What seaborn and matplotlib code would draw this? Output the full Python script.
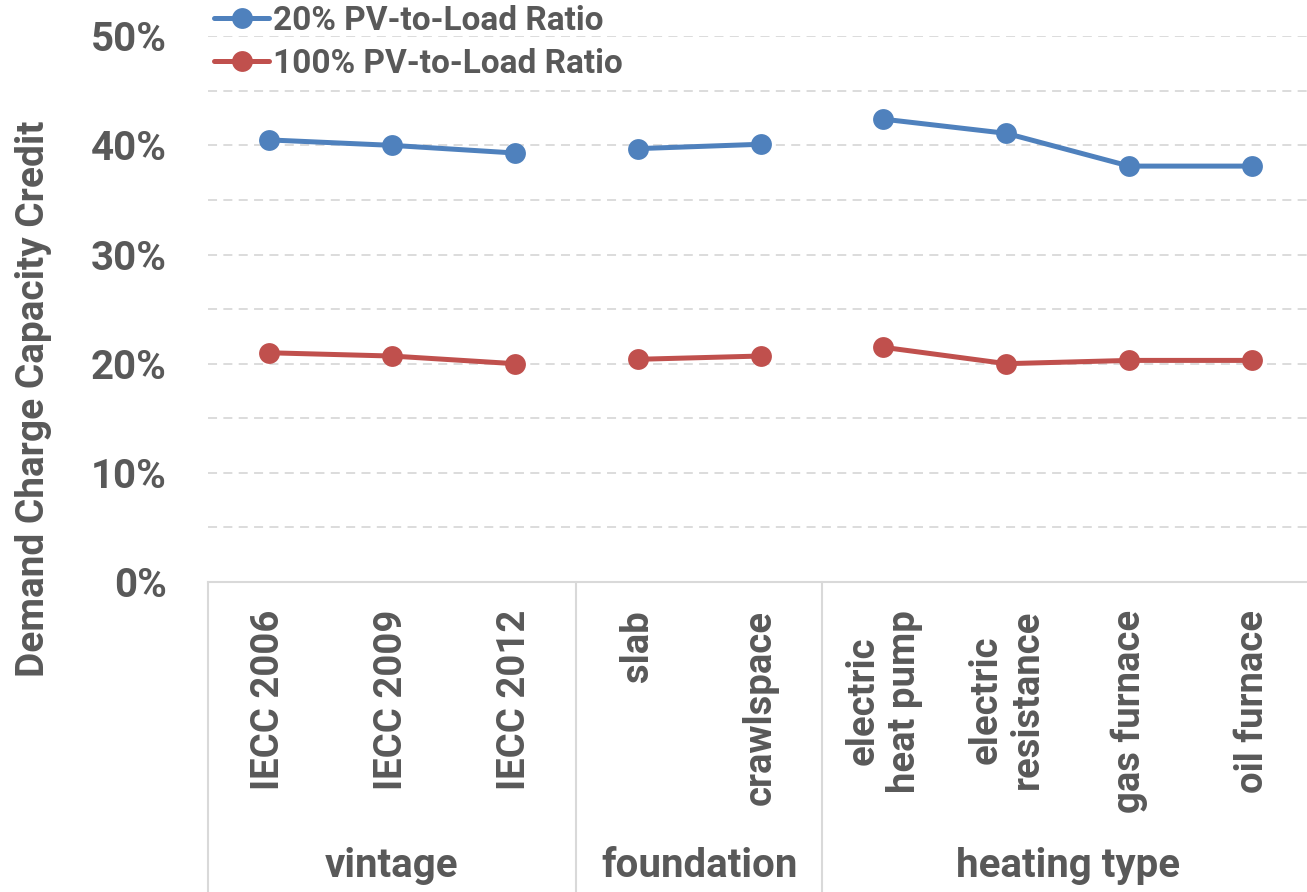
import matplotlib.pyplot as plt
import matplotlib.transforms as mtransforms
import pandas as pd
import seaborn as sns
from matplotlib.lines import Line2D
from matplotlib.ticker import MultipleLocator, PercentFormatter

categories = ["IECC 2006", "IECC 2009", "IECC 2012", "slab", "crawlspace",
              "electric\nheat pump", "electric\nresistance", "gas furnace", "oil furnace"]
groups = ["vintage"] * 3 + ["foundation"] * 2 + ["heating type"] * 4
group_names = ["vintage", "foundation", "heating type"]
pv_20 = [40.5, 40.0, 39.3, 39.7, 40.1, 42.4, 41.1, 38.1, 38.1]
pv_100 = [21.0, 20.7, 20.0, 20.4, 20.7, 21.5, 20.0, 20.3, 20.3]
series_names = ["20% PV-to-Load Ratio", "100% PV-to-Load Ratio"]
colors = ["#4F81BD", "#C0504D"]

rows = []
for name, vals in zip(series_names, [pv_20, pv_100]):
    for i, v in enumerate(vals):
        rows.append({"pos": i, "value": v, "series": name, "group": groups[i]})
df = pd.DataFrame(rows)

sns.set_style("white")
plt.rcParams["font.family"] = ["Roboto", "DejaVu Sans"]
plt.rcParams["font.weight"] = "bold"
text_color = "#595959"
grid_color = "#D9D9D9"

W, H = 1307, 892
fig = plt.figure(figsize=(W / 100, H / 100), dpi=100)
x0, x1, y0, y1 = 207.5, 1313.6, 36.2, 582.0
ax = fig.add_axes([x0 / W, 1 - y1 / H, (x1 - x0) / W, (y1 - y0) / H])

sns.lineplot(data=df, x="pos", y="value", hue="series", units="group",
             estimator=None, sort=False, palette=colors, marker="o",
             markersize=15, markeredgewidth=0, linewidth=3.6,
             legend=False, ax=ax, zorder=3)

ax.set_xlim(-0.5, 8.5)
ax.set_ylim(0, 50)
ax.yaxis.set_major_locator(MultipleLocator(10))
ax.yaxis.set_minor_locator(MultipleLocator(5))
ax.yaxis.set_major_formatter(PercentFormatter(decimals=0))
ax.grid(axis="y", which="both", color=grid_color, linestyle=(0, (5, 3.5)), linewidth=1.3)
ax.set_axisbelow(True)
ax.tick_params(axis="y", which="both", length=0, pad=29.5, labelsize=29, labelcolor=text_color)
ax.set_xlabel("")
ax.set_ylabel("")

ax.set_xticks(range(len(categories)))
ax.set_xticklabels(categories, rotation=90, va="top", ha="center",
                   multialignment="center", fontsize=27.5, color=text_color,
                   linespacing=1.15)
ax.tick_params(axis="x", length=0, pad=20)

for side in ["top", "right", "left"]:
    ax.spines[side].set_visible(False)
ax.spines["bottom"].set_color(grid_color)
ax.spines["bottom"].set_linewidth(1.5)

# group separators below the axis
trans = mtransforms.blended_transform_factory(ax.transData, ax.transAxes)
for xs in [-0.5, 2.5, 4.5, 8.5]:
    ax.plot([xs, xs], [0, -0.6], transform=trans, clip_on=False,
            color=grid_color, linewidth=1.5)

starts = [0, 3, 5]
ends = [2, 4, 8]
for name, s, e in zip(group_names, starts, ends):
    ax.text((s + e) / 2, (y1 - 866) / (y1 - y0), name, transform=trans,
            ha="center", va="center", fontsize=29, color=text_color)

fig.text(33.5 / W, 1 - 399 / H, "Demand Charge Capacity Credit", rotation=90,
         ha="center", va="center", fontsize=28, color=text_color)

handles = [Line2D([0], [0], color=c, linewidth=3.6, marker="o", markersize=15,
                  markeredgewidth=0) for c in colors]
fig.legend(handles, series_names, loc="upper left",
           bbox_to_anchor=(214 / W, 1 - 5 / H), frameon=False, borderpad=0,
           borderaxespad=0, handlelength=1.65, handletextpad=0.12,
           labelspacing=0.32, fontsize=24, labelcolor=text_color)

fig.savefig("out.png", dpi=100)
